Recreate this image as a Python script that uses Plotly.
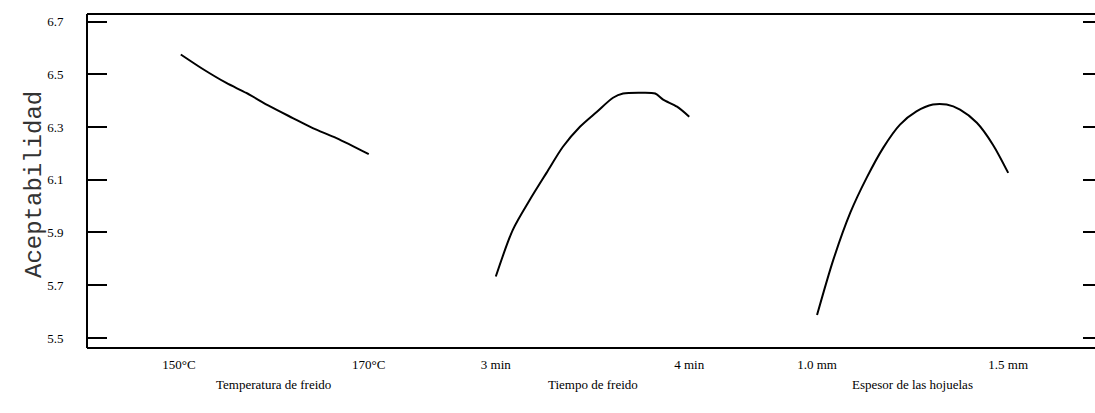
import plotly.graph_objects as go

# Data
temp_x = [150.2, 152.6, 155.0, 157.1, 159.6, 162.0, 164.1, 166.6, 170.0]
temp_y = [6.575, 6.518, 6.467, 6.429, 6.378, 6.334, 6.296, 6.258, 6.197]

time_x = [3.00, 3.088, 3.176, 3.263, 3.347, 3.435, 3.523, 3.606, 3.658, 3.746, 3.824, 3.865, 3.937, 4.00]
time_y = [5.733, 5.910, 6.024, 6.127, 6.225, 6.301, 6.358, 6.411, 6.427, 6.430, 6.427, 6.404, 6.377, 6.339]

thick_x = [1.00, 1.0425, 1.087, 1.130, 1.173, 1.217, 1.260, 1.303, 1.339, 1.374, 1.418, 1.460, 1.500]
thick_y = [5.587, 5.796, 5.975, 6.108, 6.221, 6.309, 6.359, 6.385, 6.385, 6.366, 6.316, 6.233, 6.126]

y_ticks = [5.5, 5.7, 5.9, 6.1, 6.3, 6.5, 6.7]
temp_ticks = [150, 170]
temp_labels = ["150°C", "170°C"]
time_ticks = [3, 4]
time_labels = ["3 min", "4 min"]
thick_ticks = [1.0, 1.5]
thick_labels = ["1.0 mm", "1.5 mm"]
x_titles = ["Temperatura de freido", "Tiempo de freido", "Espesor de las hojuelas"]
y_title = "Aceptabilidad"

serif = "Liberation Serif"
line = dict(color="black", width=2, shape="spline", smoothing=0.8)

fig = go.Figure()
fig.add_trace(go.Scatter(x=temp_x, y=temp_y, mode="lines", line=line, xaxis="x", yaxis="y", showlegend=False))
fig.add_trace(go.Scatter(x=time_x, y=time_y, mode="lines", line=line, xaxis="x2", yaxis="y", showlegend=False))
fig.add_trace(go.Scatter(x=thick_x, y=thick_y, mode="lines", line=line, xaxis="x3", yaxis="y", showlegend=False))
fig.add_trace(go.Scatter(x=[], y=[], xaxis="x", yaxis="y2", showlegend=False))

xcommon = dict(showgrid=False, zeroline=False, showline=False, ticks="",
               tickfont=dict(family=serif, size=13, color="black"),
               ticklabelstandoff=7, anchor="y")

yrange = [5.462, 6.7285]

fig.update_layout(
    width=1095, height=413,
    margin=dict(l=87, r=0, t=14, b=65),
    paper_bgcolor="white", plot_bgcolor="white",
    xaxis=dict(domain=[0, 0.343], range=[140.32, 176.74], tickvals=temp_ticks, ticktext=temp_labels, **xcommon),
    xaxis2=dict(domain=[0.343, 0.67], range=[2.674, 4.378], tickvals=time_ticks, ticktext=time_labels, **xcommon),
    xaxis3=dict(domain=[0.67, 1.0], range=[0.857, 1.727], tickvals=thick_ticks, ticktext=thick_labels, **xcommon),
    yaxis=dict(range=yrange, tickvals=y_ticks, ticktext=[f"{v:.1f}" for v in y_ticks],
               showgrid=False, zeroline=False, showline=True, linecolor="black", linewidth=2,
               ticks="inside", ticklen=19, tickwidth=2, tickcolor="black",
               tickfont=dict(family=serif, size=13, color="black"), ticklabelstandoff=20,
               anchor="free", position=0),
    yaxis2=dict(range=yrange, tickvals=y_ticks, overlaying="y", side="right", anchor="free", position=1,
                showgrid=False, zeroline=False, showline=False, showticklabels=False,
                ticks="inside", ticklen=12, tickwidth=2, tickcolor="black"),
    shapes=[
        dict(type="line", xref="paper", yref="paper", x0=0, x1=1, y0=1, y1=1, line=dict(color="black", width=2)),
        dict(type="line", xref="paper", yref="paper", x0=0, x1=1, y0=0, y1=0, line=dict(color="black", width=2)),
    ],
)

annotations = [
    dict(text=x_titles[0], x=160, xref="x", y=0, yref="paper", yshift=-46, showarrow=False,
         font=dict(family=serif, size=13, color="black")),
    dict(text=x_titles[1], x=3.5, xref="x2", y=0, yref="paper", yshift=-46, showarrow=False,
         font=dict(family=serif, size=13, color="black")),
    dict(text=x_titles[2], x=1.25, xref="x3", y=0, yref="paper", yshift=-46, showarrow=False,
         font=dict(family=serif, size=13, color="black")),
    dict(text=y_title, x=0, xref="paper", xanchor="center", xshift=-53, y=0.5, yref="paper",
         yanchor="middle", yshift=-4, textangle=-90,
         showarrow=False, font=dict(family="Liberation Mono", size=24, color="#333333")),
]
fig.update_layout(annotations=annotations)

fig.write_html("out.html", config={"displayModeBar": False},
               post_script="document.body.style.margin='0';")
